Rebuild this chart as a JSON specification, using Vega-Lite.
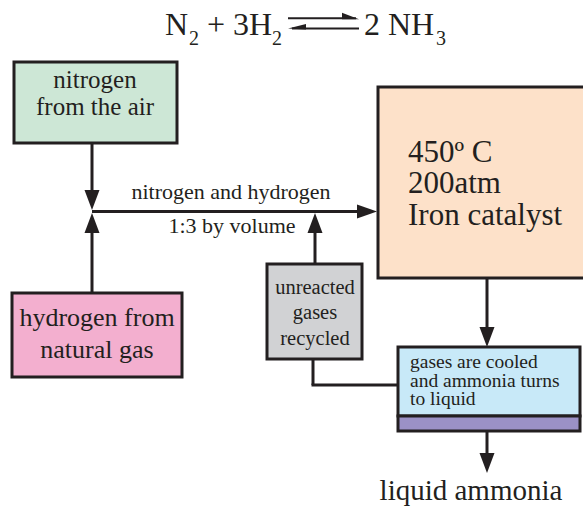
{
  "$schema": "https://vega.github.io/schema/vega-lite/v6.json",
  "width": 583,
  "height": 508,
  "padding": 0,
  "autosize": "none",
  "background": "white",
  "config": {"view": {"stroke": null}, "font": "Liberation Serif"},
  "datasets": {
    "boxes": [
      {"box": "nitrogen", "x": 14, "x2": 177, "y": 62, "y2": 143},
      {"box": "hydrogen", "x": 12, "x2": 182, "y": 293, "y2": 377},
      {"box": "reactor", "x": 378, "x2": 600, "y": 87, "y2": 278},
      {"box": "recycle", "x": 267, "x2": 362, "y": 264, "y2": 359},
      {"box": "condenser", "x": 398, "x2": 580, "y": 347, "y2": 416},
      {"box": "liquid", "x": 398, "x2": 580, "y": 416, "y2": 431}
    ],
    "lines": [
      {"kind": "flow", "x": 92, "y": 143, "x2": 92, "y2": 200},
      {"kind": "flow", "x": 92, "y": 293, "x2": 92, "y2": 222},
      {"kind": "flow", "x": 92, "y": 211.5, "x2": 366, "y2": 211.5},
      {"kind": "flow", "x": 315, "y": 264, "x2": 315, "y2": 224},
      {"kind": "flow", "x": 487, "y": 278, "x2": 487, "y2": 335},
      {"kind": "flow", "x": 313, "y": 359, "x2": 313, "y2": 385},
      {"kind": "flow", "x": 311.5, "y": 385, "x2": 398, "y2": 385},
      {"kind": "flow", "x": 487, "y": 431, "x2": 487, "y2": 460},
      {"kind": "eq", "x": 288, "y": 18.3, "x2": 356, "y2": 18.3},
      {"kind": "eq", "x": 292, "y": 28.5, "x2": 359, "y2": 28.5}
    ],
    "arrows": [
      {"dir": "down", "x": 92, "y": 210},
      {"dir": "up", "x": 92, "y": 213},
      {"dir": "right", "x": 377, "y": 211.5},
      {"dir": "up", "x": 315, "y": 213},
      {"dir": "down", "x": 487, "y": 347},
      {"dir": "down", "x": 487, "y": 473},
      {"dir": "halfright", "x": 359, "y": 19.3},
      {"dir": "halfleft", "x": 288, "y": 28.5}
    ],
    "centred_labels": [
      {"text": "nitrogen", "kind": "box", "x": 95, "y": 88},
      {"text": "from the air", "kind": "box", "x": 95, "y": 115},
      {"text": "hydrogen from", "kind": "box2", "x": 97, "y": 326},
      {"text": "natural gas", "kind": "box2", "x": 97, "y": 358},
      {"text": "nitrogen and hydrogen", "kind": "flow", "x": 231, "y": 199},
      {"text": "1:3 by volume", "kind": "flow", "x": 232, "y": 233},
      {"text": "unreacted", "kind": "gray", "x": 315, "y": 294},
      {"text": "gases", "kind": "gray", "x": 315, "y": 319},
      {"text": "recycled", "kind": "gray", "x": 315, "y": 345},
      {"text": "liquid ammonia", "kind": "big", "x": 471, "y": 500}
    ],
    "left_labels": [
      {"text": "450º C", "kind": "reactor", "x": 408, "y": 162},
      {"text": "200atm", "kind": "reactor", "x": 408, "y": 193},
      {"text": "Iron catalyst", "kind": "reactor", "x": 408, "y": 225},
      {"text": "gases are cooled", "kind": "cool", "x": 410, "y": 368},
      {"text": "and ammonia turns", "kind": "cool", "x": 410, "y": 387},
      {"text": "to liquid", "kind": "cool", "x": 410, "y": 405},
      {"text": "N", "kind": "eq", "x": 165, "y": 35},
      {"text": "2", "kind": "sub", "x": 189, "y": 45},
      {"text": "+ 3H", "kind": "eq", "x": 207, "y": 35},
      {"text": "2", "kind": "sub", "x": 272, "y": 45},
      {"text": "2 NH", "kind": "eq", "x": 364, "y": 35},
      {"text": "3", "kind": "sub", "x": 436, "y": 45}
    ]
  },
  "layer": [
    {
      "data": {"name": "boxes"},
      "mark": {"type": "rect", "stroke": "#231f20", "strokeWidth": 3, "clip": true},
      "encoding": {
        "x": {"field": "x", "type": "quantitative", "axis": null, "scale": {"domain": [0, 583], "nice": false, "zero": false}},
        "x2": {"field": "x2"},
        "y": {"field": "y", "type": "quantitative", "axis": null, "scale": {"domain": [508, 0], "nice": false, "zero": false}},
        "y2": {"field": "y2"},
        "fill": {
          "field": "box",
          "type": "nominal",
          "legend": null,
          "scale": {
            "domain": ["nitrogen", "hydrogen", "reactor", "recycle", "condenser", "liquid"],
            "range": ["#cde7d6", "#f3afcf", "#fde1c9", "#d1d2d4", "#c8e9f8", "#9b91c6"]
          }
        }
      }
    },
    {
      "data": {"name": "lines"},
      "mark": {"type": "rule", "color": "#231f20"},
      "encoding": {
        "x": {"field": "x", "type": "quantitative"},
        "x2": {"field": "x2"},
        "y": {"field": "y", "type": "quantitative"},
        "y2": {"field": "y2"},
        "strokeWidth": {
          "field": "kind",
          "type": "nominal",
          "legend": null,
          "scale": {"type": "ordinal", "domain": ["flow", "eq"], "range": [3, 2]}
        }
      }
    },
    {
      "data": {"name": "arrows"},
      "mark": {"type": "point", "filled": true, "fill": "#231f20", "strokeWidth": 0, "size": 400, "opacity": 1},
      "encoding": {
        "x": {"field": "x", "type": "quantitative"},
        "y": {"field": "y", "type": "quantitative"},
        "shape": {
          "field": "dir",
          "type": "nominal",
          "legend": null,
          "scale": {
            "domain": ["down", "up", "right", "halfright", "halfleft"],
            "range": [
              "M0,0L-0.75,-2L0.75,-2Z",
              "M0,0L-0.75,2L0.75,2Z",
              "M0,0L-2,-0.7L-2,0.7Z",
              "M0,0L-1.7,-0.65L-1.7,0Z",
              "M0,0L1.8,-0.45L1.8,0.1Z"
            ]
          }
        }
      }
    },
    {
      "data": {"name": "centred_labels"},
      "mark": {"type": "text", "align": "center", "baseline": "alphabetic", "fill": "#231f20", "font": "Liberation Serif"},
      "encoding": {
        "x": {"field": "x", "type": "quantitative"},
        "y": {"field": "y", "type": "quantitative"},
        "text": {"field": "text"},
        "size": {
          "field": "kind",
          "type": "nominal",
          "legend": null,
          "scale": {
            "type": "ordinal",
            "domain": ["box", "box2", "flow", "gray", "big", "reactor", "cool", "eq", "sub"],
            "range": [25, 26, 22, 20.5, 29, 31, 19.5, 32, 20]
          }
        }
      }
    },
    {
      "data": {"name": "left_labels"},
      "mark": {"type": "text", "align": "left", "baseline": "alphabetic", "fill": "#231f20", "font": "Liberation Serif"},
      "encoding": {
        "x": {"field": "x", "type": "quantitative"},
        "y": {"field": "y", "type": "quantitative"},
        "text": {"field": "text"},
        "size": {
          "field": "kind",
          "type": "nominal",
          "legend": null,
          "scale": {
            "type": "ordinal",
            "domain": ["box", "box2", "flow", "gray", "big", "reactor", "cool", "eq", "sub"],
            "range": [25, 26, 22, 20.5, 29, 31, 19.5, 32, 20]
          }
        }
      }
    }
  ]
}
